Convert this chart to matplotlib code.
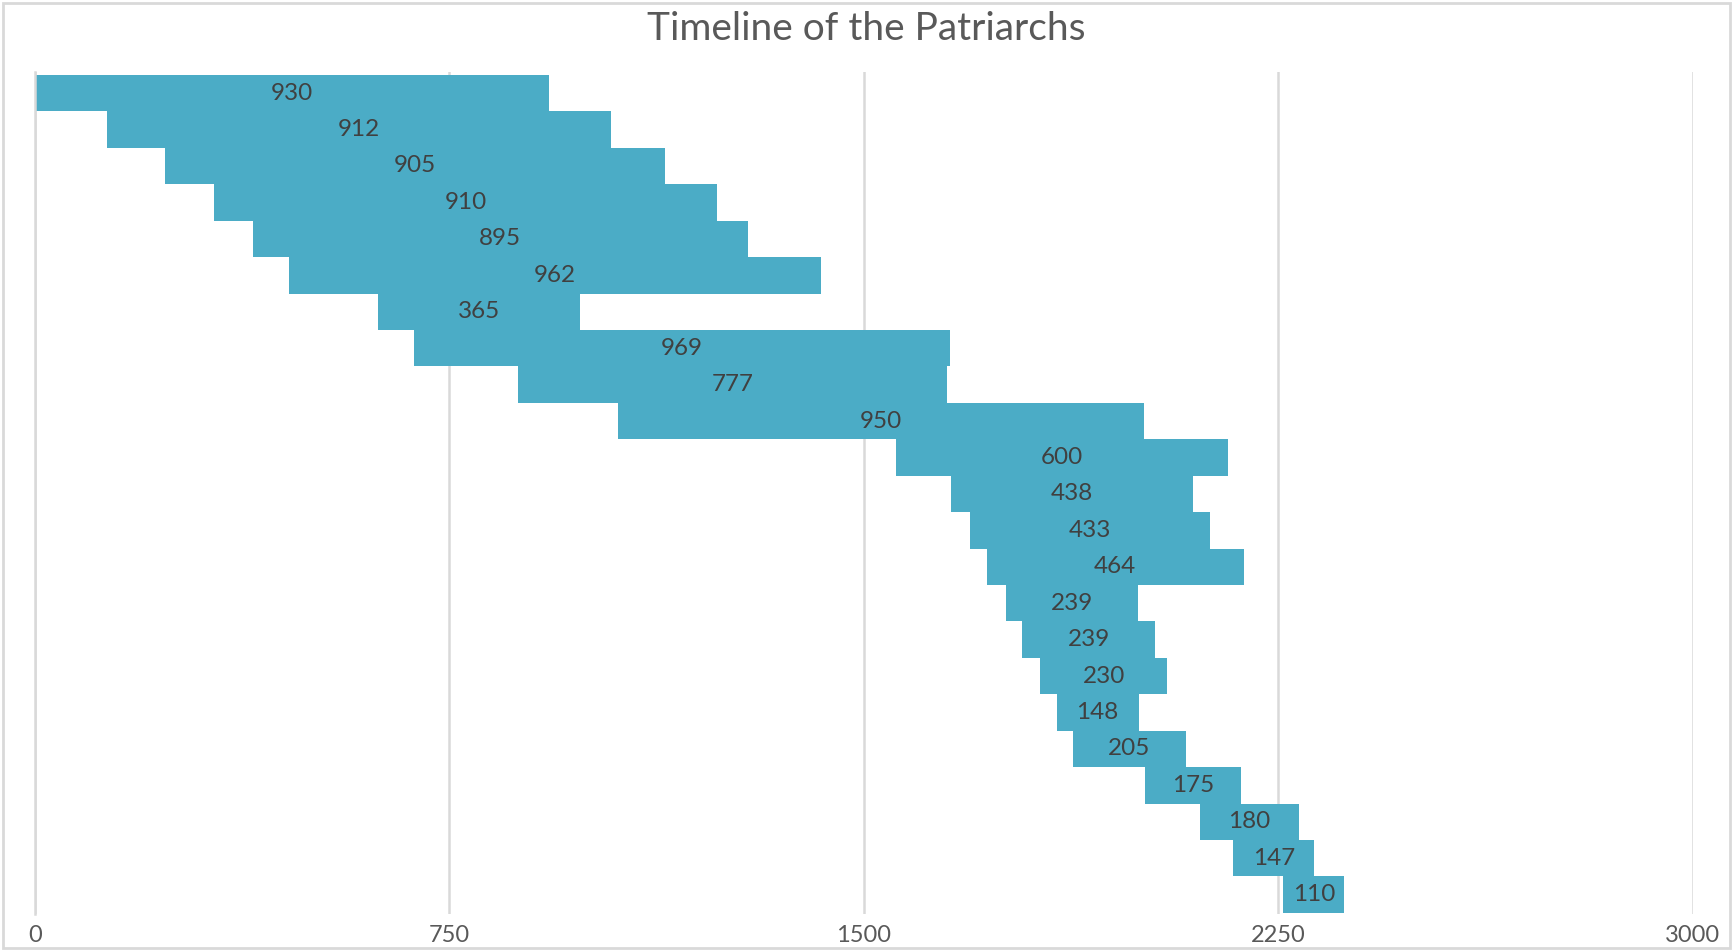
import matplotlib.pyplot as plt
from matplotlib.patches import Rectangle

# Patriarchs: year of birth (Anno Mundi) and lifespan
names = ["Adam", "Seth", "Enosh", "Kenan", "Mahalalel", "Jared", "Enoch",
         "Methuselah", "Lamech", "Noah", "Shem", "Arpachshad", "Shelah",
         "Eber", "Peleg", "Reu", "Serug", "Nahor", "Terah", "Abraham",
         "Isaac", "Jacob", "Joseph"]
born = [0, 130, 235, 325, 395, 460, 622, 687, 874, 1056, 1558, 1658, 1693,
        1723, 1757, 1787, 1819, 1849, 1878, 2008, 2108, 2168, 2259]
lifespan = [930, 912, 905, 910, 895, 962, 365, 969, 777, 950, 600, 438, 433,
            464, 239, 239, 230, 148, 205, 175, 180, 147, 110]
xticks = [0, 750, 1500, 2250, 3000]

bar_color = "#4BACC6"
grid_color = "#D9D9D9"

plt.rcParams['font.family'] = ['Lato', 'DejaVu Sans']

fig = plt.figure(figsize=(17.33, 9.51), dpi=100)
ax = fig.add_axes([0.0200, 0.0389, 0.9569, 0.8854])

rows = list(range(len(names)))
ax.barh(rows, lifespan, left=born, height=1.0, color=bar_color, zorder=2)

# data labels centred on each bar
for y, b, n in zip(rows, born, lifespan):
    ax.text(b + n / 2, y, str(n), ha='center', va='center',
            fontsize=17.5, color='#404040', zorder=3)

ax.set_xlim(0, 3000)
ax.set_ylim(22.53, -0.58)
ax.set_xticks(xticks)
ax.set_xticklabels([str(t) for t in xticks], fontsize=17, color='#595959')
ax.set_yticks([])
ax.tick_params(axis='x', length=0, pad=8)
ax.xaxis.grid(True, color=grid_color, linewidth=1.8, zorder=0)
ax.set_axisbelow(True)
for side in ['top', 'right', 'bottom']:
    ax.spines[side].set_visible(False)
ax.spines['left'].set_color(grid_color)
ax.spines['left'].set_linewidth(1.8)

fig.text(0.5, 0.970, "Timeline of the Patriarchs", ha='center', va='center',
         fontsize=28, color='#595959')

# chart area border
fig.patches.append(Rectangle((0.002, 0.003), 0.996, 0.994, transform=fig.transFigure,
                             fill=False, edgecolor=grid_color, linewidth=2))

fig.savefig("out.png", dpi=100)
